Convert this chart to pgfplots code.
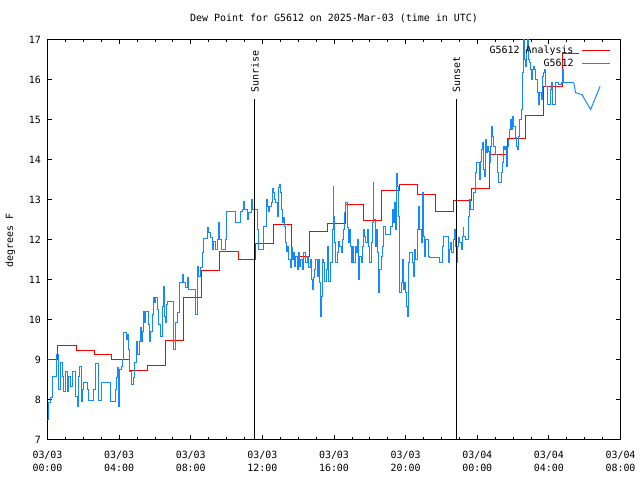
\documentclass[border=0pt]{standalone}
\usepackage{pgfplots}
\pgfplotsset{compat=1.18}
\usepackage{fontspec}
\setmainfont{DejaVu Sans Mono}
\definecolor{obsblue}{RGB}{20,136,255}
\begin{document}
\begin{tikzpicture}
\useasboundingbox (-47.5bp,-40.5bp) rectangle (592.5bp,439.5bp);
\begin{axis}[
  at={(0bp,0bp)}, anchor=south west,
  scale only axis, width=573bp, height=400bp,
  xmin=0, xmax=32, ymin=7, ymax=17,
  xtick={0,4,8,12,16,20,24,28,32},
  minor x tick num=3,
  ytick={7,8,9,10,11,12,13,14,15,16,17},
  xticklabels={{03/03\\00:00},{03/03\\04:00},{03/03\\08:00},{03/03\\12:00},{03/03\\16:00},{03/03\\20:00},{03/04\\00:00},{03/04\\04:00},{03/04\\08:00}},
  tick align=inside,
  major tick length=5bp, minor tick length=2.5bp,
  axis line style={line width=1bp, black},
  every tick/.style={black, line width=0.8bp},
  /pgf/number format/assume math mode=true,
  tick label style={font=\fontsize{10}{13}\selectfont},
  xticklabel style={align=center, yshift=-8bp},
  yticklabel style={xshift=-3bp},
  legend plot pos=right,
  legend cell align=right,
  legend image code/.code={\draw[#1] (0bp,0bp) -- (28bp,0bp);},
  legend style={at={(rel axis cs:1,1)}, anchor=north east, xshift=-10bp, yshift=-6bp,
    draw=none, fill=none, inner sep=0pt, outer sep=0pt,
    nodes={inner sep=0pt, text height=8bp, text depth=2bp},
    row sep=3bp, font=\fontsize{10}{12}\selectfont,
    /tikz/every odd column/.style={column sep=8bp}},
  clip=true,
]
\addplot[red, line width=1bp, const plot] coordinates {
(0,9.0) (0.58,9.35) (1.6,9.225) (2.6,9.125) (3.6,9.0) (4.6,8.725) (5.6,8.85) (6.6,9.475) (7.6,10.55) (8.6,11.225) (9.63,11.7) (10.65,11.5) (11.62,11.9) (12.62,12.375) (13.63,11.575) (14.62,12.2) (15.62,12.4) (16.64,12.875) (17.65,12.475) (18.65,13.225) (19.65,13.375) (20.68,13.125) (21.65,12.7) (22.65,12.975) (23.68,13.275) (24.68,14.125) (25.7,14.525) (26.7,15.1) (27.72,15.825) (28.78,16.65) (29.7,16.65)
};
\addlegendentry{G5612 Analysis}
\addplot[obsblue, line width=1bp, const plot] coordinates {
(0,7.5) (0.074,7.92) (0.167,8.04) (0.26,8.57) (0.503,9.13) (0.633,8.25) (0.726,8.92) (0.819,8.58) (0.912,8.21) (1.005,8.71) (1.098,8.21) (1.191,8.58) (1.284,8.33) (1.377,8.71) (1.564,8.08) (1.657,7.83) (1.75,8.58) (1.806,8.82) (1.88,7.96) (1.936,8.25) (2.029,8.42) (2.252,8.25) (2.308,7.98) (2.55,8.25) (2.68,8.9) (2.867,7.98) (2.997,8.42) (3.518,7.94) (3.797,8.25) (3.853,8.54) (3.928,8.79) (3.984,7.83) (4.04,8.75) (4.132,8.83) (4.17,9.0) (4.263,9.67) (4.412,9.5) (4.486,9.63) (4.542,9.25) (4.598,8.71) (4.672,8.38) (4.784,8.54) (4.859,8.92) (4.97,9.46) (5.045,9.13) (5.119,9.46) (5.194,9.79) (5.25,9.46) (5.287,9.71) (5.38,10.21) (5.436,9.92) (5.491,10.21) (5.659,9.88) (5.715,9.46) (5.752,9.71) (5.845,10.13) (5.901,10.54) (5.975,10.42) (6.05,10.54) (6.124,10.25) (6.217,9.88) (6.31,9.58) (6.404,10.33) (6.459,10.83) (6.534,10.08) (6.59,9.92) (6.645,10.38) (6.72,10.46) (7.055,9.25) (7.148,9.92) (7.241,10.17) (7.39,10.92) (7.521,11.13) (7.614,10.92) (7.707,10.79) (7.8,11.04) (7.856,10.75) (8.284,10.13) (8.358,11.33) (8.451,11.08) (8.544,11.29) (8.637,11.67) (8.73,12.02) (8.917,12.31) (9.01,12.17) (9.103,12.04) (9.196,11.75) (9.289,11.96) (9.382,11.75) (9.475,12.0) (9.568,12.43) (9.624,12.0) (9.698,11.75) (9.94,12.0) (9.996,12.71) (10.499,12.43) (10.778,12.71) (10.871,12.75) (10.927,12.96) (11.02,12.75) (11.15,12.5) (11.243,12.67) (11.374,13.0) (11.448,12.75)
(11.709,12.25) (11.765,11.75) (12.081,12.32) (12.23,13.0) (12.304,12.83) (12.36,12.71) (12.416,12.83) (12.49,12.92) (12.546,13.27) (12.602,13.17) (12.658,13.0) (12.733,12.92) (12.826,12.58) (12.881,13.29) (12.937,13.38) (13.012,13.17) (13.049,12.75) (13.105,12.42) (13.161,12.54) (13.235,12.33) (13.291,11.92) (13.347,11.71) (13.421,11.83) (13.477,11.5) (13.57,11.29) (13.626,11.79) (13.682,11.5) (13.756,11.68) (13.812,11.33) (13.868,11.58) (13.943,11.25) (13.998,11.67) (14.054,11.33) (14.129,11.5) (14.222,11.25) (14.315,11.67) (14.408,11.42) (14.501,11.58) (14.594,11.29) (14.687,11.5) (14.724,11.0) (14.78,10.75) (14.836,11.04) (14.91,11.25) (14.985,11.5) (15.059,11.08) (15.134,11.5) (15.208,10.92) (15.246,10.08) (15.283,10.58) (15.339,11.5) (15.432,11.42) (15.488,10.96) (15.581,11.25) (15.655,11.83) (15.711,10.96) (15.804,11.42) (15.897,12.25) (15.953,13.33) (15.99,12.58) (16.046,11.92) (16.083,11.42) (16.176,11.67) (16.269,11.96) (16.325,11.83) (16.4,11.67) (16.456,12.0) (16.549,12.25) (16.605,12.67) (16.66,12.92) (16.735,12.29) (16.791,11.92) (16.847,12.25) (16.921,11.83) (16.977,11.42) (17.033,11.83) (17.107,11.42) (17.2,11.83) (17.256,11.67) (17.293,12.0) (17.386,11.0) (17.442,11.58) (17.517,11.42) (17.572,11.83) (17.666,12.25) (17.721,12.08) (17.777,11.92) (17.852,12.25) (17.908,11.83) (17.963,11.42) (18.075,11.92) (18.131,12.42) (18.187,13.42) (18.224,12.5) (18.298,11.83) (18.373,12.25) (18.447,11.67) (18.503,10.67) (18.559,11.25) (18.634,11.58) (18.708,11.83) (18.782,12.33) (18.857,12.13) (19.155,12.33) (19.248,12.75) (19.304,12.42) (19.378,12.92) (19.434,12.25) (19.49,13.64) (19.527,13.33) (19.583,12.58) (19.639,11.92) (19.676,10.67) (19.75,10.92) (19.806,11.5) (19.862,10.75) (19.937,10.92) (19.992,10.67) (20.048,10.33) (20.104,10.08) (20.179,11.42) (20.235,11.67) (20.365,11.42) (20.421,11.08) (20.495,11.75) (20.57,11.5) (20.644,12.25) (20.737,12.83) (20.793,12.25) (20.868,11.92) (20.942,13.17) (20.979,12.75) (21.016,12.08) (21.054,11.58) (21.128,12.0) (21.258,11.58) (21.333,11.54) (21.872,11.42) (22.059,11.83) (22.133,12.08) (22.375,11.42) (22.431,11.75) (22.505,11.92) (22.58,11.67) (22.654,12.0) (22.729,12.25) (22.785,11.83)
(22.841,11.42) (22.879,11.83) (22.972,12.04) (23.028,11.92) (23.102,11.75) (23.158,12.08) (23.214,12.29) (23.251,12.08) (23.326,12.0) (23.512,12.58) (23.549,13.0) (23.623,12.75) (23.81,13.17) (23.884,13.67) (23.959,13.92) (24.107,13.5) (24.182,13.96) (24.256,14.25) (24.294,14.42) (24.331,13.75) (24.405,13.58) (24.461,14.5) (24.517,14.17) (24.554,14.33) (24.647,14.21) (24.703,13.92) (24.74,14.33) (24.796,14.83) (24.852,14.58) (24.889,14.33) (25.038,14.13) (25.113,13.67) (25.168,13.42) (25.355,13.67) (25.392,13.92) (25.448,14.33) (25.522,14.25) (25.597,14.33) (25.652,13.83) (25.708,14.33) (25.764,14.5) (25.82,14.75) (25.857,15.0) (25.913,14.75) (25.969,15.08) (26.043,14.83) (26.136,14.54) (26.192,14.33) (26.267,14.25) (26.323,14.58) (26.378,15.0) (26.453,15.25) (26.509,16.17) (26.564,16.75) (26.602,17.0) (26.639,16.5) (26.695,16.33) (26.751,16.75) (26.788,17.0) (26.844,16.5) (26.9,16.42) (26.974,16.25) (27.03,16.0) (27.086,16.25) (27.16,16.33) (27.216,16.25) (27.272,16.0) (27.346,15.67) (27.402,15.38) (27.458,15.67) (27.588,15.5) (27.644,16.08) (27.719,16.17) (27.774,16.25) (27.83,15.83) (27.905,15.38) (28.091,15.75) (28.147,15.92) (28.221,15.38) (28.37,15.92) (28.556,15.88) (28.687,15.92) (28.742,16.25) (28.798,16.04) (28.836,15.92) (29.394,15.92)
};
\addlegendentry{G5612}
\addplot[obsblue, line width=1bp, forget plot] coordinates {
(29.394,15.92) (29.487,15.67) (29.86,15.62) (29.95,15.54) (30.33,15.25) (30.86,15.83)
};
\addplot[black, line width=1bp, forget plot] coordinates {(11.58,7) (11.58,15.52)};
\addplot[black, line width=1bp, forget plot] coordinates {(22.84,7) (22.84,15.52)};
\node[rotate=90, anchor=west, inner sep=0pt, font=\fontsize{10}{12}\selectfont] at (axis cs:11.58,15.68) {Sunrise};
\node[rotate=90, anchor=west, inner sep=0pt, font=\fontsize{10}{12}\selectfont] at (axis cs:22.84,15.68) {Sunset};
\end{axis}
\node[font=\fontsize{10}{12}\selectfont] at (286.5bp,421bp) {Dew Point for G5612 on 2025-Mar-03 (time in UTC)};
\node[rotate=90, font=\fontsize{10}{12}\selectfont] at (-37bp,199bp) {degrees F};
\end{tikzpicture}
\end{document}
